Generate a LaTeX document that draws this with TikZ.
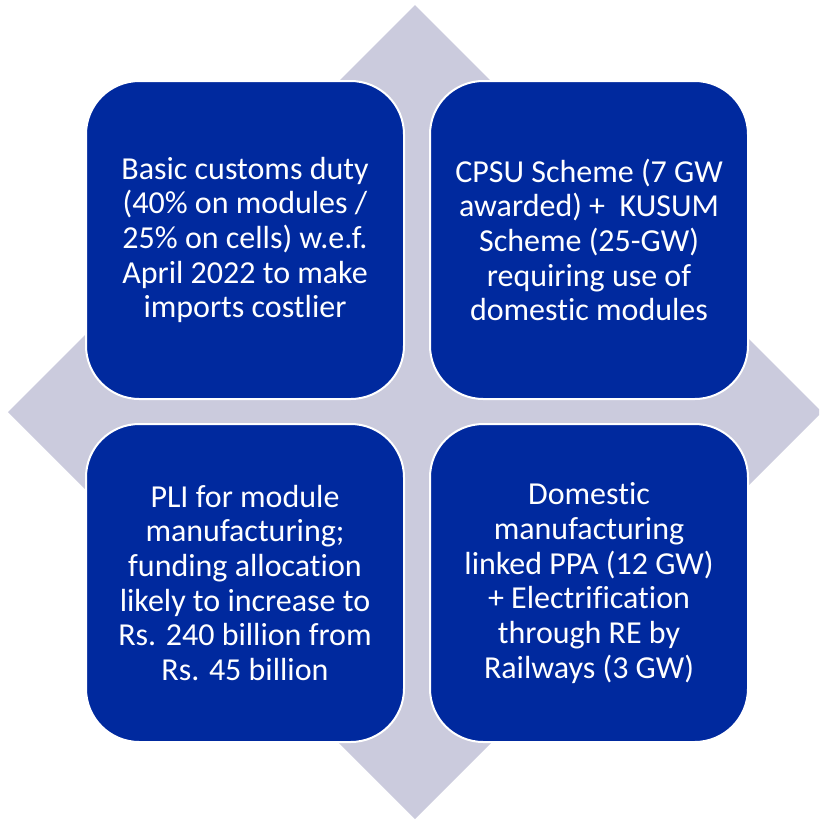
\documentclass[tikz,border=0pt]{standalone}
\usepackage{fontspec}
\setmainfont[Ligatures={NoCommon}]{Carlito}
\definecolor{cardblue}{RGB}{0,41,158}
\definecolor{diamondgrey}{RGB}{203,203,221}

\begin{document}
\begin{tikzpicture}[x=0.75pt, y=-0.75pt,
    card/.style={draw=white, line width=1.5pt, fill=cardblue, rounded corners=40pt,
        minimum width=238.5pt, minimum height=238.5pt, inner sep=0pt,
        text=white, align=center, font=\fontsize{24}{26}\selectfont}]
    \useasboundingbox (0, 0) rectangle (819, 822);
    \clip (0, 0) rectangle (819, 822);

    % Diamond behind the cards
    \fill[diamondgrey] (415, 5) -- (822, 412) -- (415, 819) -- (8, 412) -- cycle;

    % Cards
    \node[card] (duty) at (245, 240) {Basic customs duty\\(40\% on modules /\\25\% on cells) w.e.f.\\April 2022 to make\\imports costlier};
    \node[card] (cpsu) at (589, 240) {CPSU Scheme (7 GW\\awarded) + \ KUSUM\\Scheme (25-GW)\\requiring use of\\domestic modules};
    \node[card] (pli) at (245, 583) {PLI for module\\manufacturing;\\funding allocation\\likely to increase to\\Rs. 240 billion from\\Rs. 45 billion};
    \node[card] (ppa) at (589, 583) {Domestic\\manufacturing\\linked PPA (12 GW)\\+ Electrification\\through RE by\\Railways (3 GW)};
\end{tikzpicture}
\end{document}
